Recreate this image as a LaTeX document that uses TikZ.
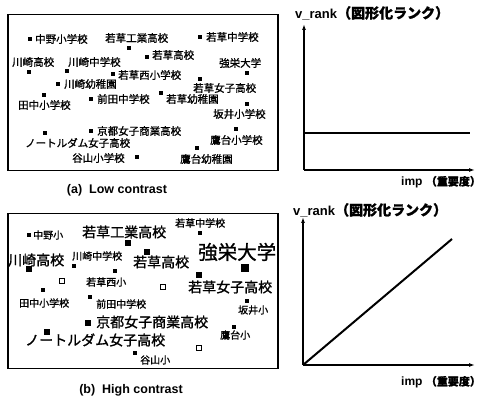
\documentclass[tikz,border=0pt]{standalone}
\usepackage{fontspec}
\setmainfont{Liberation Sans}
\newfontfamily\jp{Noto Sans CJK JP}[FakeBold=1.2]
\usetikzlibrary{arrows.meta}
\begin{document}
\begin{tikzpicture}[x=1pt,y=-1pt,
  sq/.style={rectangle,fill=black,minimum size=4.5pt,inner sep=0pt},
  bsq/.style={rectangle,fill=black,minimum size=6.5pt,inner sep=0pt},
  hsq/.style={rectangle,fill=black,minimum size=8.5pt,inner sep=0pt},
  osq/.style={rectangle,draw=black,line width=1.4pt,fill=white,minimum size=4.5pt,inner sep=0pt},
  la/.style={anchor=west,inner sep=0pt,font=\jp\fontsize{10.5}{11}\selectfont},
  ls/.style={anchor=west,inner sep=0pt,font=\jp\fontsize{10}{11}\selectfont},
  lb/.style={anchor=west,inner sep=0pt,font=\jp\fontsize{14}{15}\selectfont},
  lh/.style={anchor=west,inner sep=0pt,font=\jp\fontsize{19.5}{20}\selectfont},
  panel/.style={draw=black,line width=1.5pt},
  captext/.style={inner sep=0pt,font=\bfseries\fontsize{12.5}{13}\selectfont},
  axis/.style={line width=1.4pt,-{Latex[length=6pt,width=4pt]}},
  curve/.style={line width=2pt},
  axlab/.style={anchor=west,inner sep=0pt,font=\bfseries\fontsize{12}{13}\selectfont}
]
\useasboundingbox (0,0) rectangle (485,403);
\fill[white] (0,0) rectangle (485,403);

% ---------- panel (a) ----------
\node[panel,minimum width=270pt,minimum height=156pt,anchor=north west] (pa) at (7,14) {};
\node[sq] (sa1) at (30,39) {}; \node[la] (ta1) at (35,39) {中野小学校};
\node[la] (ta2) at (105,38) {若草工業高校}; \node[sq] (sa2) at (129,48) {};
\node[sq] (sa3) at (200,37) {}; \node[la] (ta3) at (206,37) {若草中学校};
\node[la] (ta4) at (12,62) {川崎高校}; \node[sq] (sa4) at (29,72) {};
\node[la] (ta5) at (68,62) {川崎中学校}; \node[sq] (sa5) at (67,71) {};
\node[sq] (sa6) at (147,57) {}; \node[la] (ta6) at (152,55) {若草高校};
\node[la] (ta7) at (219,63) {強栄大学}; \node[sq] (sa7) at (247,73) {};
\node[sq] (sa8) at (113,74) {}; \node[la] (ta8) at (118,75) {若草西小学校};
\node[sq] (sa9) at (200,79) {}; \node[la] (ta9) at (193,88) {若草女子高校};
\node[sq] (sa10) at (58,84) {}; \node[la] (ta10) at (64,84) {川崎幼稚園};
\node[sq] (sa11) at (44,95) {}; \node[la] (ta11) at (18,105) {田中小学校};
\node[sq] (sa12) at (91,99) {}; \node[la] (ta12) at (97,99) {前田中学校};
\node[sq] (sa13) at (161,93) {}; \node[la] (ta13) at (166,99) {若草幼稚園};
\node[sq] (sa14) at (247,104) {}; \node[la] (ta14) at (213,114) {坂井小学校};
\node[sq] (sa15) at (91,131) {}; \node[la] (ta15) at (97,131) {京都女子商業高校};
\node[sq] (sa16) at (45,133) {}; \node[la] (ta16) at (25,143) {ノートルダム女子高校};
\node[sq] (sa17) at (236,129) {}; \node[la] (ta17) at (210,140) {鷹台小学校};
\node[la] (ta18) at (72,158) {谷山小学校}; \node[sq] (sa18) at (137,157) {};
\node[sq] (sa19) at (197,148) {}; \node[la] (ta19) at (180,159) {鷹台幼稚園};
\node[captext] (capa) at (117,190) {(a)\ \ Low contrast};

% ---------- panel (b) ----------
\node[panel,minimum width=270pt,minimum height=155pt,anchor=north west] (pb) at (7,213) {};
\node[sq] (sb1) at (29,235) {}; \node[ls] (tb1) at (33,235) {中野小};
\node[lb] (tb2) at (82,232) {若草工業高校}; \node[bsq] (sb2) at (128,243) {};
\node[ls] (tb3) at (175,223) {若草中学校}; \node[sq] (sb3) at (200,233) {};
\node[lb] (tb4) at (8,260) {川崎高校}; \node[bsq] (sb4) at (29,269) {};
\node[ls] (tb5) at (72,256) {川崎中学校}; \node[sq] (sb5) at (74,266) {};
\node[lb] (tb6) at (133,262) {若草高校}; \node[bsq] (sb6) at (147,252) {};
\node[lh] (tb7) at (198,252) {強栄大学}; \node[hsq] (sb7) at (245,268) {};
\node[ls] (tb8) at (86,282) {若草西小}; \node[sq] (sb8) at (115,271) {};
\node[osq] (ob1) at (62,281) {};
\node[osq] (ob2) at (163,287) {};
\node[osq] (ob3) at (199,348) {};
\node[lb] (tb9) at (188,287) {若草女子高校}; \node[bsq] (sb9) at (199,275) {};
\node[ls] (tb10) at (19,303) {田中小学校}; \node[sq] (sb10) at (43,290) {};
\node[sq] (sb11) at (90,297) {}; \node[ls] (tb11) at (96,304) {前田中学校};
\node[lb] (tb12) at (96,322) {京都女子商業高校}; \node[bsq] (sb12) at (88,323) {};
\node[lb] (tb13) at (25,340) {ノートルダム女子高校}; \node[bsq] (sb13) at (47,332) {};
\node[ls] (tb14) at (238,310) {坂井小}; \node[sq] (sb14) at (247,301) {};
\node[ls] (tb15) at (220,335) {鷹台小}; \node[sq] (sb15) at (234,327) {};
\node[sq] (sb16) at (135,353) {}; \node[ls] (tb16) at (140,360) {谷山小};
\node[captext] (capb) at (131,390) {(b)\ \ High contrast};

% ---------- graph (a) ----------
\coordinate (oa) at (304,170);
\coordinate (ya) at (304,24);
\coordinate (xa) at (475,170);
\coordinate (ha1) at (304,133);
\coordinate (ha2) at (470,133);
\draw[axis] (oa) -- (ya);
\draw[axis] (oa) -- (xa);
\draw[curve] (ha1) -- (ha2);
\node[axlab,font=\bfseries\fontsize{13}{14}\selectfont] (vla) at (295,13) {v\_rank{\jp\fontsize{14}{15}\selectfont （図形化ランク）}};
\node[axlab] (ila) at (401,182) {imp {\jp\fontsize{11}{12}\selectfont （重要度）}};

% ---------- graph (b) ----------
\coordinate (ob) at (303,365);
\coordinate (yb) at (303,217);
\coordinate (xb) at (475,365);
\coordinate (db) at (452,239);
\draw[axis] (ob) -- (yb);
\draw[axis] (ob) -- (xb);
\draw[curve] (ob) -- (db);
\node[axlab,font=\bfseries\fontsize{13}{14}\selectfont] (vlb) at (293,210) {v\_rank{\jp\fontsize{14}{15}\selectfont （図形化ランク）}};
\node[axlab] (ilb) at (401,382) {imp {\jp\fontsize{11}{12}\selectfont （重要度）}};
\end{tikzpicture}
\end{document}
